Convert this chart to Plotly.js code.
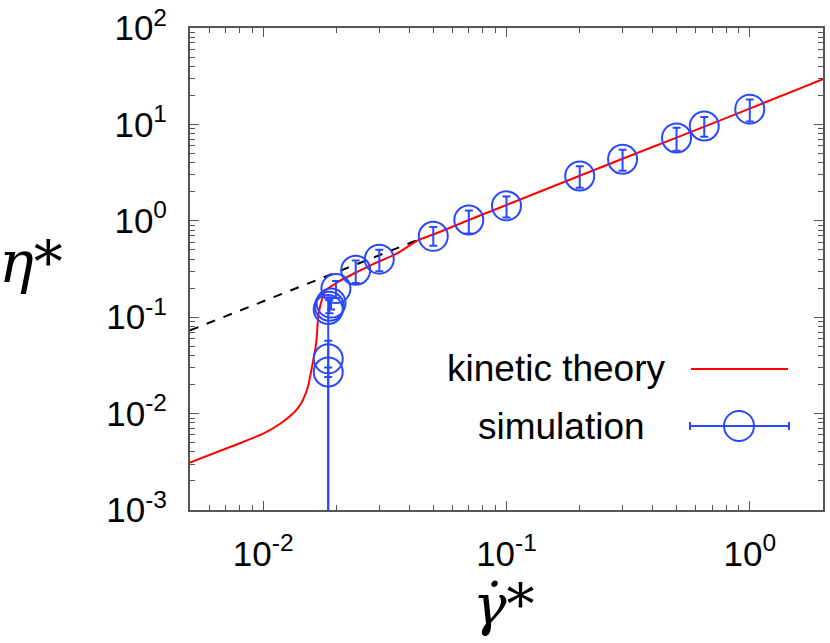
<!DOCTYPE html>
<html lang="en">
<head>
    <meta charset="UTF-8">
    <title>Viscosity vs shear rate</title>
    <script src="https://cdn.plot.ly/plotly-3.0.1.min.js"></script>
    <style>
        body { margin: 0; background: #fff; }
        #chart { width: 830px; height: 643px; }
    </style>
</head>
<body>
<div id="chart"></div>
<script>
    // kinetic theory curve
    var theoryX = [0.005, 0.0073, 0.01, 0.0117, 0.01325, 0.0138, 0.0143, 0.0148, 0.01525, 0.01596, 0.0165, 0.0167, 0.0169,
                   0.0174, 0.0181, 0.0202, 0.0236, 0.0286, 0.0355, 0.0434, 0.05, 0.07, 0.1, 0.2, 0.3, 0.5, 1, 2];
    var theoryY = [0.0031, 0.0045, 0.0062, 0.0078, 0.0100, 0.0112, 0.0127, 0.0152, 0.0188, 0.033, 0.053, 0.079, 0.109,
                   0.15, 0.19, 0.23, 0.284, 0.36, 0.458, 0.63, 0.72, 1.02, 1.46, 2.93, 4.4, 7.3, 14.6, 29.5];

    // dashed asymptote
    var dashX = [0.005, 0.045];
    var dashY = [0.073, 0.66];

    // simulation points with error bars
    var simX = [0.0185, 0.0185, 0.0185, 0.0187, 0.019, 0.0199, 0.024, 0.03, 0.05, 0.07, 0.1, 0.2, 0.3, 0.5, 0.65, 1.0];
    var simY = [0.027, 0.037, 0.12, 0.13, 0.14, 0.198, 0.307, 0.40, 0.69, 1.02, 1.43, 2.92, 4.35, 7.24, 9.64, 14.4];
    var simErrUp = [0.003, 0.02, 0.04, 0.02, 0.02, 0.04, 0.08, 0.1, 0.17, 0.26, 0.36, 0.75, 1.1, 2.0, 2.3, 3.7];
    var simErrDown = [0.003, 0.05, 0.13, 0.02, 0.02, 0.04, 0.08, 0.1, 0.14, 0.28, 0.35, 0.72, 1.05, 1.9, 2.2, 3.7];

    var xTickVals = [0.01, 0.1, 1];
    var xTickText = ['10<sup>-2</sup>', '10<sup>-1</sup>', '10<sup>0</sup>'];
    var yTickVals = [0.001, 0.01, 0.1, 1, 10, 100];
    var yTickText = ['10<sup>-3</sup>', '10<sup>-2</sup>', '10<sup>-1</sup>', '10<sup>0</sup>', '10<sup>1</sup>', '10<sup>2</sup>'];

    var RED = '#ff0000';
    var BLUE = '#2a48ff';

    // minor ticks 2..9 of each decade
    function minorTicks(lo, hi) {
        var out = [];
        for (var e = lo; e <= hi; e++) {
            for (var m = 2; m <= 9; m++) out.push(m * Math.pow(10, e));
        }
        return out;
    }

    var traces = [
        {
            x: dashX, y: dashY, type: 'scatter', mode: 'lines',
            line: { color: '#000', width: 2, dash: '9px,9px' },
            hoverinfo: 'skip'
        },
        {
            x: theoryX, y: theoryY, type: 'scatter', mode: 'lines',
            line: { color: RED, width: 2, shape: 'spline', smoothing: 0.7 },
            name: 'kinetic theory'
        },
        {
            x: simX, y: simY, type: 'scatter', mode: 'markers',
            marker: { symbol: 'circle-open', size: 29, color: BLUE, line: { color: BLUE, width: 2 } },
            error_y: { type: 'data', symmetric: false, array: simErrUp, arrayminus: simErrDown,
                       color: BLUE, thickness: 2, width: 4 },
            name: 'simulation'
        }
    ];

    var axisCommon = {
        type: 'log',
        showgrid: false,
        zeroline: false,
        showline: true,
        linecolor: '#555',
        linewidth: 2,
        mirror: 'allticks',
        ticks: 'inside',
        ticklen: 9,
        tickwidth: 1,
        tickcolor: '#555',
        tickmode: 'array',
        tickfont: { family: 'Liberation Sans, Arial, sans-serif', size: 35, color: '#000' }
    };

    var xaxis = Object.assign({}, axisCommon, {
        range: [Math.log10(0.005), Math.log10(2)],
        tickvals: xTickVals, ticktext: xTickText,
        ticklabelstandoff: 12,
        minor: { tickmode: 'array', tickvals: minorTicks(-3, 0), ticks: 'inside', ticklen: 5, tickcolor: '#555', tickwidth: 1 }
    });
    var yaxis = Object.assign({}, axisCommon, {
        range: [-3, 2],
        tickvals: yTickVals, ticktext: yTickText,
        ticklabelstandoff: 14,
        minor: { tickmode: 'array', tickvals: minorTicks(-3, 1), ticks: 'inside', ticklen: 5, tickcolor: '#555', tickwidth: 1 }
    });

    // pixel -> paper helpers for legend placement
    var L = 190, R = 823, T = 28, B = 510;
    function px(x) { return (x - L) / (R - L); }
    function py(y) { return (B - y) / (B - T); }

    var legendFont = { family: 'Liberation Sans, Arial, sans-serif', size: 37, color: '#000' };

    var layout = {
        width: 830,
        height: 643,
        margin: { l: L, r: 830 - R, t: T, b: 643 - B },
        paper_bgcolor: '#fff',
        plot_bgcolor: '#fff',
        showlegend: false,
        xaxis: xaxis,
        yaxis: yaxis,
        annotations: [
            { xref: 'paper', yref: 'paper', x: px(667), y: py(369), xanchor: 'right', yanchor: 'middle',
              text: 'kinetic theory', showarrow: false, font: legendFont },
            { xref: 'paper', yref: 'paper', x: px(647), y: py(426), xanchor: 'right', yanchor: 'middle',
              text: 'simulation', showarrow: false, font: legendFont },
            { xref: 'paper', yref: 'paper', x: px(31), y: py(262), xanchor: 'center', yanchor: 'middle',
              text: '<i>η</i>*', showarrow: false,
              font: { family: 'DejaVu Serif, serif', size: 58, color: '#000' } },
            { xref: 'paper', yref: 'paper', x: px(503), y: py(604), xanchor: 'center', yanchor: 'middle',
              text: '<i>γ\u0307</i>*', showarrow: false,
              font: { family: 'DejaVu Serif, serif', size: 56, color: '#000' } }
        ],
        shapes: [
            { type: 'line', xref: 'paper', yref: 'paper', x0: px(691), x1: px(788), y0: py(369), y1: py(369),
              line: { color: RED, width: 2 } },
            { type: 'line', xref: 'paper', yref: 'paper', x0: px(690), x1: px(789), y0: py(426), y1: py(426),
              line: { color: BLUE, width: 2 } },
            { type: 'line', xref: 'paper', yref: 'paper', x0: px(690), x1: px(690), y0: py(422), y1: py(430),
              line: { color: BLUE, width: 2 } },
            { type: 'line', xref: 'paper', yref: 'paper', x0: px(789), x1: px(789), y0: py(422), y1: py(430),
              line: { color: BLUE, width: 2 } },
            { type: 'circle', xref: 'paper', yref: 'paper', xsizemode: 'pixel', ysizemode: 'pixel',
              xanchor: px(739), yanchor: py(426), x0: -15, x1: 15, y0: -15, y1: 15,
              line: { color: BLUE, width: 2 } }
        ]
    };

    Plotly.newPlot('chart', traces, layout, { displayModeBar: false, staticPlot: true });
</script>
</body>
</html>
